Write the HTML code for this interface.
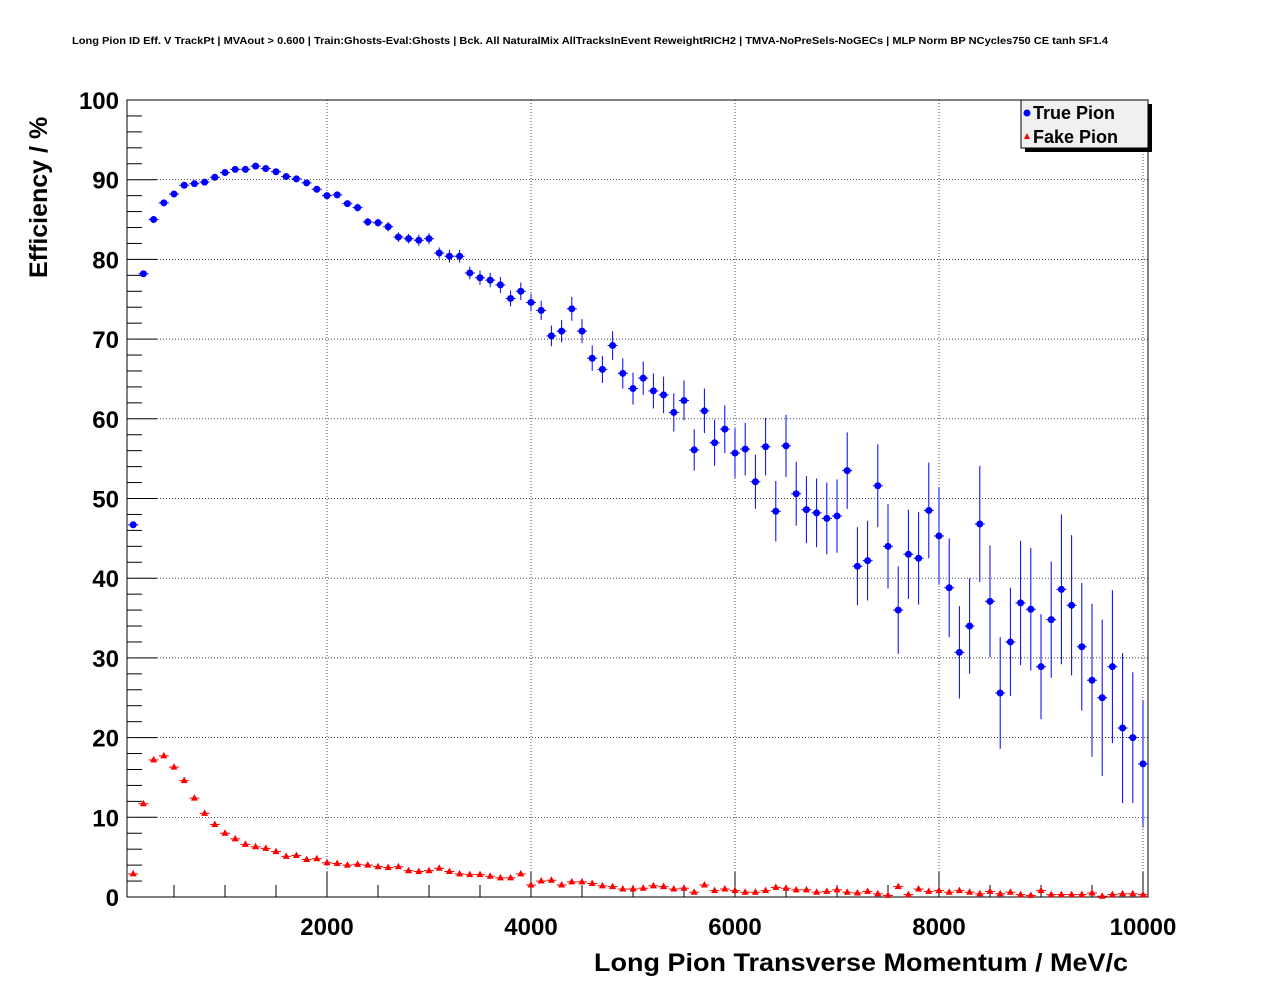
<!DOCTYPE html>
<html><head><meta charset="utf-8"><style>
body{margin:0;background:#fff;}
svg{display:block;font-family:"Liberation Sans",Arial,sans-serif;}
</style></head><body>
<svg id="chart" width="1276" height="996" viewBox="0 0 1276 996" xmlns="http://www.w3.org/2000/svg">
<rect x="0" y="0" width="1276" height="996" fill="#fff"/>
<text x="72" y="44" font-size="10" font-weight="bold" textLength="1036" lengthAdjust="spacingAndGlyphs">Long Pion ID Eff. V TrackPt | MVAout &gt; 0.600 | Train:Ghosts-Eval:Ghosts | Bck. All NaturalMix AllTracksInEvent ReweightRICH2 | TMVA-NoPreSels-NoGECs | MLP Norm BP NCycles750 CE tanh SF1.4</text>
<g id="grid"></g>
<g id="axes"></g>
<g id="marks"></g>
<text transform="translate(47,278) rotate(-90)" font-size="25" font-weight="bold">Efficiency / %</text>
<text x="594" y="971" font-size="25" font-weight="bold" textLength="534" lengthAdjust="spacingAndGlyphs">Long Pion Transverse Momentum / MeV/c</text>
<g>
<rect x="1025" y="104" width="127" height="48" fill="#000"/>
<rect x="1021" y="100" width="127" height="48" fill="#f0f0f0" stroke="#000" stroke-width="1"/>
<circle cx="1027" cy="113" r="3.5" fill="#0000ff"/>
<text x="1033" y="119" font-size="18" font-weight="bold">True Pion</text>
<polygon points="1027,133 1024,139 1030,139" fill="#ff0000"/>
<text x="1033" y="143" font-size="18" font-weight="bold">Fake Pion</text>
</g>
</svg>
<script>
const xValues=[];for(let i=1;i<=100;i++)xValues.push(i*100);
const truePion=[46.7,78.2,85,87.1,88.2,89.3,89.5,89.7,90.3,90.9,91.3,91.3,91.7,91.4,91,90.4,90.1,89.6,88.8,88,88.1,87,86.5,84.7,84.6,84.1,82.8,82.6,82.4,82.6,80.8,80.4,80.4,78.3,77.7,77.4,76.8,75.1,76,74.6,73.6,70.4,71,73.8,71,67.6,66.2,69.2,65.7,63.8,65.1,63.5,63,60.8,62.3,56.1,61,57,58.7,55.7,56.2,52.1,56.5,48.4,56.6,50.6,48.6,48.2,47.5,47.8,53.5,41.5,42.2,51.6,44,36,43,42.5,48.5,45.3,38.8,30.7,34,46.8,37.1,25.6,32,36.9,36.1,28.9,34.8,38.6,36.6,31.4,27.2,25,28.9,21.2,20,16.7];
const truePionErr=[0.4,0.4,0.3,0.3,0.3,0.3,0.3,0.3,0.3,0.3,0.3,0.3,0.3,0.3,0.3,0.3,0.3,0.4,0.4,0.4,0.4,0.4,0.5,0.5,0.5,0.6,0.6,0.6,0.7,0.7,0.7,0.8,0.8,0.8,0.9,0.9,1.0,1.0,1.1,1.1,1.2,1.3,1.4,1.5,1.5,1.6,1.7,1.8,1.9,2.0,2.1,2.2,2.3,2.4,2.5,2.6,2.8,2.9,3.0,3.1,3.3,3.4,3.6,3.8,3.9,4.0,4.2,4.3,4.5,4.6,4.8,4.9,5.0,5.2,5.3,5.5,5.6,5.8,6.0,6.1,6.2,5.8,6.0,7.3,7.0,7.0,6.8,7.8,7.7,6.6,7.3,9.4,8.8,8.0,9.6,9.8,9.6,9.4,8.2,8.0];
const fakePion=[2.9,11.7,17.2,17.7,16.3,14.6,12.4,10.5,9.1,8,7.3,6.6,6.3,6.1,5.7,5.1,5.2,4.7,4.8,4.3,4.2,4.0,4.1,4.0,3.8,3.7,3.8,3.3,3.2,3.3,3.6,3.2,2.9,2.8,2.8,2.6,2.4,2.4,2.9,1.5,2.0,2.1,1.5,1.9,1.9,1.7,1.4,1.3,1.0,1.0,1.1,1.4,1.3,1.0,1.1,0.6,1.5,0.8,1.0,0.8,0.6,0.6,0.8,1.2,1.1,0.9,0.9,0.6,0.7,0.9,0.6,0.5,0.7,0.4,0.2,1.3,0.3,1.0,0.7,0.8,0.6,0.8,0.6,0.4,0.7,0.4,0.6,0.3,0.2,0.8,0.3,0.3,0.3,0.3,0.5,0.1,0.3,0.4,0.4,0.3];
const xTicks=[2000,4000,6000,8000,10000];
const yTicks=[0,10,20,30,40,50,60,70,80,90,100];

const L=127,R=1148,T=100,B=897;
const X=v=>123+v*0.102;
const Y=v=>B-(v/100)*(B-T);
const NS="http://www.w3.org/2000/svg";
function mk(tag,attrs,parent){const e=document.createElementNS(NS,tag);for(const k in attrs)e.setAttribute(k,attrs[k]);parent.appendChild(e);return e;}
const grid=document.getElementById('grid'),axes=document.getElementById('axes'),marks=document.getElementById('marks');
xTicks.forEach(t=>{const g=mk('line',{x1:X(t),x2:X(t),y1:T,y2:B,stroke:'#000','stroke-width':0.7,'stroke-dasharray':'1,2'},grid);

});
yTicks.forEach(t=>{if(t===0||t===100)return;const g=mk('line',{x1:L,x2:R,y1:Y(t),y2:Y(t),stroke:'#000','stroke-width':0.7,'stroke-dasharray':'1,2'},grid);

});
const fr=mk('rect',{x:L,y:T,width:R-L,height:B-T,fill:'none',stroke:'#000','stroke-width':1},axes);


for(let v=500;v<=10000;v+=500){const major=v%2000===0;if(X(v)<L||X(v)>R)continue;
mk('line',{x1:X(v),x2:X(v),y1:B,y2:B-(major?25:12),stroke:'#000','stroke-width':1},axes);}
for(let v=0;v<=100;v+=2){const major=v%10===0;mk('line',{x1:L,x2:L+(major?30:15),y1:Y(v),y2:Y(v),stroke:'#000','stroke-width':1},axes);}
xTicks.forEach(t=>{const e=mk('text',{x:X(t),y:935,'text-anchor':'middle','font-size':24,'font-weight':'bold'},axes);e.textContent=t;

});
yTicks.forEach(t=>{const e=mk('text',{x:119,y:Y(t)+9,'text-anchor':'end','font-size':24,'font-weight':'bold'},axes);e.textContent=t;

});
truePion.forEach((v,i)=>{const x=X(xValues[i]),e=truePionErr[i];
const l=mk('line',{x1:x,x2:x,y1:Y(v+e),y2:Y(v-e),stroke:'#0000ff','stroke-width':1},marks);


mk('line',{x1:x-5,x2:x+5,y1:Y(v),y2:Y(v),stroke:'#0000ff','stroke-width':1},marks);
const c=mk('circle',{cx:x,cy:Y(v),r:3.5,fill:'#0000ff'},marks);

});
fakePion.forEach((v,i)=>{const x=X(xValues[i]),y=Y(v);
mk('line',{x1:x-5,x2:x+5,y1:y,y2:y,stroke:'#ff0000','stroke-width':1},marks);
const p=mk('polygon',{points:`${x},${y-4} ${x-3.5},${y+2.5} ${x+3.5},${y+2.5}`,fill:'#ff0000'},marks);

});
</script>
</body></html>
